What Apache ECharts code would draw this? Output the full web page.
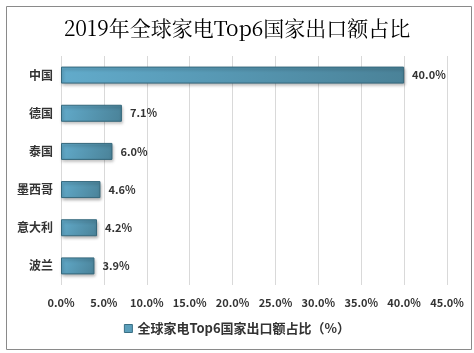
<!DOCTYPE html>
<html><head><meta charset="utf-8">
<script src="https://cdn.jsdelivr.net/npm/echarts@6/dist/echarts.min.js"></script>
<style>html,body{margin:0;padding:0;background:#fff}#c{width:474px;height:353px;position:relative}</style>
</head><body><div id="c"></div>
<script>
const categories = ['中国','德国','泰国','墨西哥','意大利','波兰'];
const values = [40.0, 7.1, 6.0, 4.6, 4.2, 3.9];
const seriesName = '全球家电Top6国家出口额占比（%）';
const titleText = '2019年全球家电Top6国家出口额占比';

const chart = echarts.init(document.getElementById('c'));
chart.setOption({
  animation:false,
  graphic:[{type:'rect',left:4,top:4,shape:{width:465,height:343},style:{fill:'none',stroke:'#8a8a8a',lineWidth:1}}],
  title:{text:titleText,left:'center',top:13,textStyle:{fontFamily:'"Noto Serif CJK SC","Liberation Serif",serif',fontSize:21,fontWeight:'normal',color:'#000'}},
  grid:{left:61,right:27,top:56,height:229,containLabel:false},
  legend:{bottom:13,left:'center',itemWidth:8,itemHeight:8,icon:'rect',
    textStyle:{fontSize:13,fontWeight:'bold',color:'#333',fontFamily:'"Noto Sans CJK SC",sans-serif'},
    data:[{name:seriesName,itemStyle:{color:'#5b9fbb',borderColor:'#3a6f84',borderWidth:1}}]},
  xAxis:{type:'value',min:0,max:45,interval:5,
    axisLine:{show:false},axisTick:{show:false},
    splitLine:{lineStyle:{color:'#d9d9d9'}},
    axisLabel:{formatter:v=>v.toFixed(1)+'%',margin:12,fontSize:11,fontWeight:'bold',color:'#333',fontFamily:'"Noto Sans CJK SC",sans-serif'}},
  yAxis:{type:'category',data:categories,inverse:true,
    axisLine:{show:false},axisTick:{show:false},
    axisLabel:{margin:8,fontSize:12,fontWeight:'bold',color:'#333',fontFamily:'"Noto Sans CJK SC",sans-serif'}},
  series:[{name:seriesName,type:'bar',data:values,barWidth:17,
    itemStyle:{color:new echarts.graphic.LinearGradient(0,0,1,1,[{offset:0,color:'#62abcb'},{offset:1,color:'#4a8298'}]),
      borderColor:'#35687c',borderWidth:1,shadowColor:'rgba(0,0,0,0.3)',shadowBlur:3,shadowOffsetX:1,shadowOffsetY:2},
    label:{show:true,position:'right',distance:8,formatter:p=>p.value.toFixed(1)+'%',fontSize:11,fontWeight:'bold',color:'#333',fontFamily:'"Noto Sans CJK SC",sans-serif'}}]
});
</script></body></html>
